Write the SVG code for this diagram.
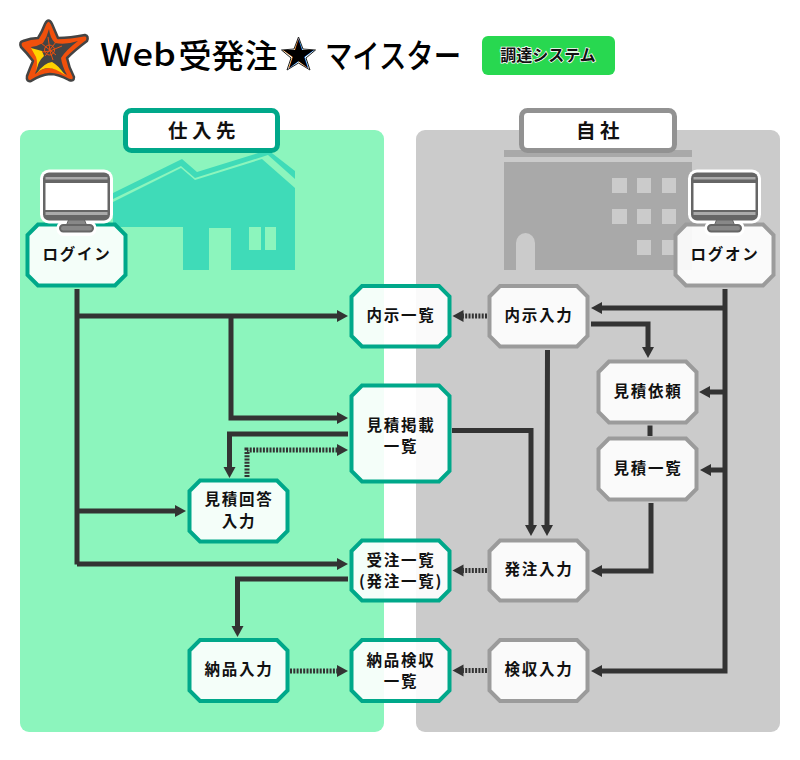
<svg xmlns="http://www.w3.org/2000/svg" xmlns:xlink="http://www.w3.org/1999/xlink" width="800" height="760" viewBox="0 0 800 760">
<style>
text{font-family:"Noto Sans CJK JP","Noto Sans",sans-serif;font-weight:700;fill:#111;text-anchor:middle}
.lb{font-size:15.5px;letter-spacing:1.700px}
.g{fill:rgba(255,255,255,.9);stroke:#00a88a;stroke-width:4}
.k{fill:rgba(255,255,255,.9);stroke:#9b9b9b;stroke-width:4}
.c{fill:none;stroke:#333;stroke-width:5;stroke-linejoin:miter}
.d{fill:none;stroke:#333;stroke-width:5;stroke-dasharray:2 1.300}
.h{fill:#333}
</style>
<defs>
<path id="ar" d="M0 0l-11-6v12z"/>
<g id="mon">
<rect x="-18" y="54" width="36" height="11" rx="5" fill="#fff" stroke="#fff" stroke-width="4"/>
<rect x="-36.500" y="0.500" width="73" height="54" rx="9" fill="#fff"/>
<rect x="-33.500" y="3.500" width="67" height="48" rx="6" fill="#666"/>
<rect x="-31" y="8" width="62" height="2.500" fill="#aaa"/>
<rect x="-31" y="14" width="62" height="27" fill="#fff"/>
<rect x="-31" y="43" width="62" height="3" fill="#aaa"/>
<path d="M-8 51h16l2 5h-20z" fill="#888" stroke="#666"/>
<rect x="-16.500" y="56" width="33" height="6.500" rx="3.200" fill="#888" stroke="#666" stroke-width="2"/>
</g>
</defs>
<rect width="800" height="760" fill="#fff"/>
<g id="logo">
<path d="M45 24Q48.500 17 52 24L58 38Q70 38 85 35Q89 36 87 41Q75 50 67 58Q69 68 74 77Q74 82 69 80Q58 74 50 74Q40 75 31 81Q26 82 27 76Q30 68 33 61Q27 53 21 47Q19 42 23 41Q31 38 38 38Q42 32 45 24Z" fill="#f1500c" stroke="#444" stroke-width="2.500" stroke-linejoin="round"/>
<path d="M49 29Q50 38 55 43Q66 45 78 41Q66 50 61 58Q62 66 67 75Q55 67 49 68Q42 68 35 74Q38 66 39 60Q35 53 31 47Q38 46 43 43Q47 37 49 29Z" fill="#444"/>
<path d="M31 48L42 51L44 56Q38 61 36 72Q38 62 36 57Z" fill="#ffd200"/>
<path d="M37 73Q44 63 52 62Q58 65 65 75Q55 68 49 68Q42 68 37 73Z" fill="#ffd200"/>
<path d="M48 37L50 51L42 52M41 43L56 55M62 46L50 51L53 60M56 42L45 56" stroke="#f1500c" stroke-width="1" fill="none"/>
<circle cx="49.500" cy="50" r="5" fill="none" stroke="#f1500c" stroke-width="1"/>
</g>
<g id="title">
<text x="138" y="66" font-size="31" textLength="76" lengthAdjust="spacingAndGlyphs" style="font-weight:500;fill:#000">Web</text>
<text x="228" y="68" font-size="33" textLength="99" lengthAdjust="spacingAndGlyphs" style="font-weight:500;fill:#000">受発注</text>
<path d="M298.500 37L303 49L315.500 50L306 58L310 70L298.500 63L287 70L291 58L281.500 50L294 49Z" fill="#fff" stroke="#222" stroke-width="1"/>
<text x="298.500" y="66" font-size="33" style="fill:#000">★</text>
<text x="393" y="68" font-size="33" textLength="136" lengthAdjust="spacingAndGlyphs" style="font-weight:500;fill:#000">マイスター</text>
</g>
<g id="badge">
<rect x="482" y="36" width="133" height="39" rx="6" fill="#28d850"/>
<text x="548" y="61" font-size="16" style="fill:#111;stroke:#fff;stroke-width:1.500;paint-order:stroke">調達システム</text>
</g>
<g id="supplier-panel">
<rect x="20" y="130" width="364" height="602" rx="9" fill="#8cf5bd"/>
<path d="M113 193L182 159L197 172L268 150L295 171V179L268 155L195 178L181 166L113 199Z" fill="#3fdbb8"/>
<path d="M113 202L181 168L195 180L262 159L295 188V270H231V228H209V270H183V227H113Z" fill="#3fdbb8"/>
<path d="M249 227h12v23h-12zM265 227h11v23h-11z" fill="#8cf5bd"/>
<rect x="125.500" y="110.500" width="152" height="40" rx="6" fill="#fff" stroke="#00a88a" stroke-width="5"/>
<text x="204" y="138" font-size="19.500" style="letter-spacing:4.500px">仕入先</text>
</g>
<g id="own-panel">
<rect x="416" y="130" width="364" height="602" rx="9" fill="#cbcbcb"/>
<path d="M504 150h188v7H504zM504 162h188v108H535V243a9.500 10 0 0 0-19 0v27h-12z" fill="#a9a9a9"/>
<path d="M612 178h15v15h-15zM637 178h14v15h-14zM662 178h14v15h-14zM612 209h15v15h-15zM637 209h14v15h-14zM662 209h14v15h-14zM637 240h14v15h-14zM662 240h14v15h-14z" fill="#cbcbcb"/>
<rect x="521.500" y="110.500" width="153" height="40" rx="6" fill="#fff" stroke="#929292" stroke-width="5"/>
<text x="600" y="138" font-size="19.500" style="letter-spacing:4.500px">自社</text>
</g>
<g id="connectors">
<path class="c" d="M77 289V564.500M77 316H340M231 316V418H340M348 434H229.500V470M77 511H178M77 564H340M348 579H237.500V629"/>
<path class="d" d="M247 477V450H340M290 671H340M487 316H461M487 570.500H461M487 670.500H461"/>
<path class="c" d="M725 289V671H599M725 308H599M725 392H707M725 470H708M591 324H648V350M650 425.500V436M547.500 350L547 528M452 430.500H531V528M651 503V571H599"/>
<g class="h">
<use xlink:href="#ar" href="#ar" x="348" y="316"/>
<use xlink:href="#ar" href="#ar" x="348" y="418"/>
<use xlink:href="#ar" href="#ar" x="348" y="450"/>
<use xlink:href="#ar" href="#ar" x="186" y="511"/>
<use xlink:href="#ar" href="#ar" x="348" y="564"/>
<use xlink:href="#ar" href="#ar" x="348" y="671"/>
<use xlink:href="#ar" href="#ar" transform="translate(229.500 478) rotate(90)"/>
<use xlink:href="#ar" href="#ar" transform="translate(237.500 637) rotate(90)"/>
<use xlink:href="#ar" href="#ar" transform="translate(452.500 316) rotate(180)"/>
<use xlink:href="#ar" href="#ar" transform="translate(452.500 570.500) rotate(180)"/>
<use xlink:href="#ar" href="#ar" transform="translate(452.500 670.500) rotate(180)"/>
<use xlink:href="#ar" href="#ar" transform="translate(591 308) rotate(180)"/>
<use xlink:href="#ar" href="#ar" transform="translate(699 392) rotate(180)"/>
<use xlink:href="#ar" href="#ar" transform="translate(700 470) rotate(180)"/>
<use xlink:href="#ar" href="#ar" transform="translate(591 571) rotate(180)"/>
<use xlink:href="#ar" href="#ar" transform="translate(591 671) rotate(180)"/>
<use xlink:href="#ar" href="#ar" transform="translate(648 358) rotate(90)"/>
<use xlink:href="#ar" href="#ar" transform="translate(547 536) rotate(90)"/>
<use xlink:href="#ar" href="#ar" transform="translate(531 536) rotate(90)"/>
</g>
</g>
<g id="n-login"><path class="g" d="M38 224.500H115L125.500 235V275L115 285.500H38L27.500 275V235Z"/><text class="lb" x="77" y="260">ログイン</text></g>
<g id="n-logon"><path class="k" d="M686 224.500H763L773.500 235V275L763 285.500H686L675.500 275V235Z"/><text class="lb" x="725" y="260">ログオン</text></g>
<g id="n-naiji-list"><path class="g" d="M362 286H439L449.500 296.500V336L439 346.500H362L351.500 336V296.500Z"/><text class="lb" x="401" y="321">内示一覧</text></g>
<g id="n-naiji-input"><path class="k" d="M500 286H577L587.500 296.500V336L577 346.500H500L489.500 336V296.500Z"/><text class="lb" x="539" y="321">内示入力</text></g>
<g id="n-req"><path class="k" d="M609 361.500H686L696.500 372V412L686 422.500H609L598.500 412V372Z"/><text class="lb" x="648" y="397">見積依頼</text></g>
<g id="n-quote-list"><path class="k" d="M609 438.500H686L696.500 449V489L686 499.500H609L598.500 489V449Z"/><text class="lb" x="648" y="474">見積一覧</text></g>
<g id="n-quote-post"><path class="g" d="M362 385.500H439L449.500 396V471L439 481.500H362L351.500 471V396Z"/><text class="lb" x="401" y="431">見積掲載</text><text class="lb" x="401" y="452">一覧</text></g>
<g id="n-quote-answer"><path class="g" d="M200 480.500H277L287.500 491V531L277 541.500H200L189.500 531V491Z"/><text class="lb" x="239" y="505">見積回答</text><text class="lb" x="239" y="527">入力</text></g>
<g id="n-order-list"><path class="g" d="M362 540.500H439L449.500 551V590L439 600.500H362L351.500 590V551Z"/><text class="lb" x="401" y="566">受注一覧</text><text class="lb" x="401" y="587">(発注一覧)</text></g>
<g id="n-order-input"><path class="k" d="M500 540.500H577L587.500 551V590L577 600.500H500L489.500 590V551Z"/><text class="lb" x="539" y="575">発注入力</text></g>
<g id="n-deliver"><path class="g" d="M200 640H277L287.500 650.500V690.500L277 701H200L189.500 690.500V650.500Z"/><text class="lb" x="239" y="675">納品入力</text></g>
<g id="n-inspect-list"><path class="g" d="M362 640H439L449.500 650.500V690.500L439 701H362L351.500 690.500V650.500Z"/><text class="lb" x="401" y="666">納品検収</text><text class="lb" x="401" y="687">一覧</text></g>
<g id="n-inspect"><path class="k" d="M500 640H577L587.500 650.500V690.500L577 701H500L489.500 690.500V650.500Z"/><text class="lb" x="539" y="675">検収入力</text></g>
<g id="monitor-left"><use xlink:href="#mon" href="#mon" x="76.500" y="169"/></g>
<g id="monitor-right"><use xlink:href="#mon" href="#mon" x="724.500" y="169"/></g>
</svg>
